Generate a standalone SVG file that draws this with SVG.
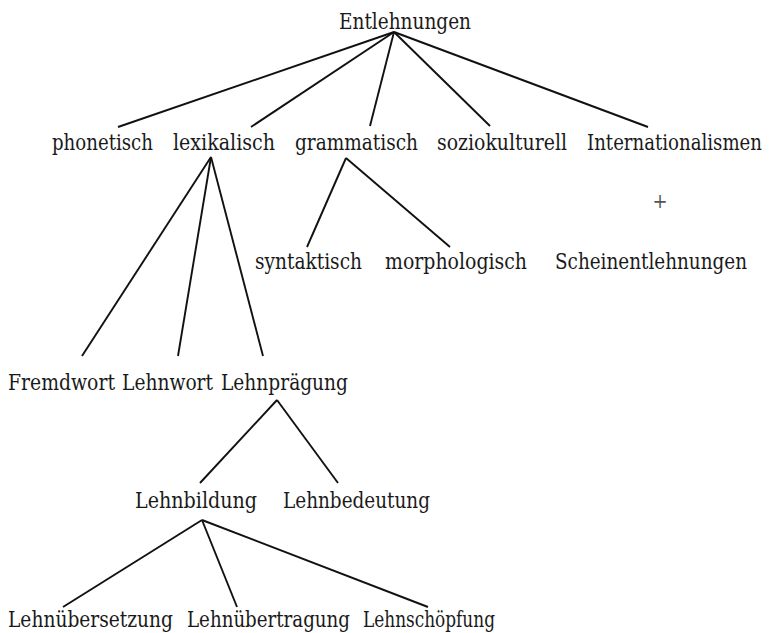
<svg xmlns="http://www.w3.org/2000/svg" width="769" height="633" viewBox="0 0 769 633">
<style>
.t{font-family:'DejaVu Serif Condensed','DejaVu Serif',serif;font-size:22.5px;fill:#1a1a1a}
.c line{stroke:#111;stroke-width:1.9;stroke-linecap:butt}
</style>
<rect width="769" height="633" fill="#fff"/>
<g class="c" id="connectors">
<line x1="394" y1="32" x2="118" y2="127"/>
<line x1="394" y1="32" x2="251" y2="127"/>
<line x1="394" y1="32" x2="370" y2="126"/>
<line x1="394" y1="32" x2="490" y2="126"/>
<line x1="394" y1="32" x2="648" y2="127"/>
<line x1="211" y1="157" x2="82" y2="356"/>
<line x1="211" y1="157" x2="178" y2="356"/>
<line x1="211" y1="157" x2="263" y2="356"/>
<line x1="346" y1="158" x2="307" y2="247"/>
<line x1="346" y1="158" x2="450" y2="247"/>
<line x1="277" y1="400" x2="200" y2="483"/>
<line x1="277" y1="400" x2="338" y2="483"/>
<line x1="202" y1="520" x2="63" y2="607"/>
<line x1="202" y1="520" x2="237" y2="607"/>
<line x1="202" y1="520" x2="428" y2="607"/>
</g>
<g id="n-entlehnungen"><text class="t" x="339" y="29" textLength="132" lengthAdjust="spacingAndGlyphs">Entlehnungen</text></g>
<g id="n-phonetisch"><text class="t" x="52" y="150" textLength="101" lengthAdjust="spacingAndGlyphs">phonetisch</text></g>
<g id="n-lexikalisch"><text class="t" x="173" y="150" textLength="102" lengthAdjust="spacingAndGlyphs">lexikalisch</text></g>
<g id="n-grammatisch"><text class="t" x="295" y="150" textLength="123" lengthAdjust="spacingAndGlyphs">grammatisch</text></g>
<g id="n-soziokulturell"><text class="t" x="437" y="150" textLength="130" lengthAdjust="spacingAndGlyphs">soziokulturell</text></g>
<g id="n-internationalismen"><text class="t" x="762" y="150" text-anchor="end" textLength="175" lengthAdjust="spacingAndGlyphs">Internationalismen</text></g>
<g id="n-plus"><text class="t" x="660" y="208" text-anchor="middle" style="fill:#555;font-size:20px">+</text></g>
<g id="n-syntaktisch"><text class="t" x="255" y="269" textLength="107" lengthAdjust="spacingAndGlyphs">syntaktisch</text></g>
<g id="n-morphologisch"><text class="t" x="385" y="269" textLength="142" lengthAdjust="spacingAndGlyphs">morphologisch</text></g>
<g id="n-scheinentlehnungen"><text class="t" x="555" y="269" textLength="192" lengthAdjust="spacingAndGlyphs">Scheinentlehnungen</text></g>
<g id="n-fremdwort"><text class="t" x="8" y="390" textLength="107" lengthAdjust="spacingAndGlyphs">Fremdwort</text></g>
<g id="n-lehnwort"><text class="t" x="122" y="390" textLength="91" lengthAdjust="spacingAndGlyphs">Lehnwort</text></g>
<g id="n-lehnpraegung"><text class="t" x="221" y="390" textLength="127" lengthAdjust="spacingAndGlyphs">Lehnprägung</text></g>
<g id="n-lehnbildung"><text class="t" x="135" y="508" textLength="122" lengthAdjust="spacingAndGlyphs">Lehnbildung</text></g>
<g id="n-lehnbedeutung"><text class="t" x="283" y="508" textLength="147" lengthAdjust="spacingAndGlyphs">Lehnbedeutung</text></g>
<g id="n-lehnuebersetzung"><text class="t" x="8" y="627" textLength="165" lengthAdjust="spacingAndGlyphs">Lehnübersetzung</text></g>
<g id="n-lehnuebertragung"><text class="t" x="187" y="627" textLength="163" lengthAdjust="spacingAndGlyphs">Lehnübertragung</text></g>
<g id="n-lehnschoepfung"><text class="t" x="363" y="627" textLength="132" lengthAdjust="spacingAndGlyphs">Lehnschöpfung</text></g>
</svg>
